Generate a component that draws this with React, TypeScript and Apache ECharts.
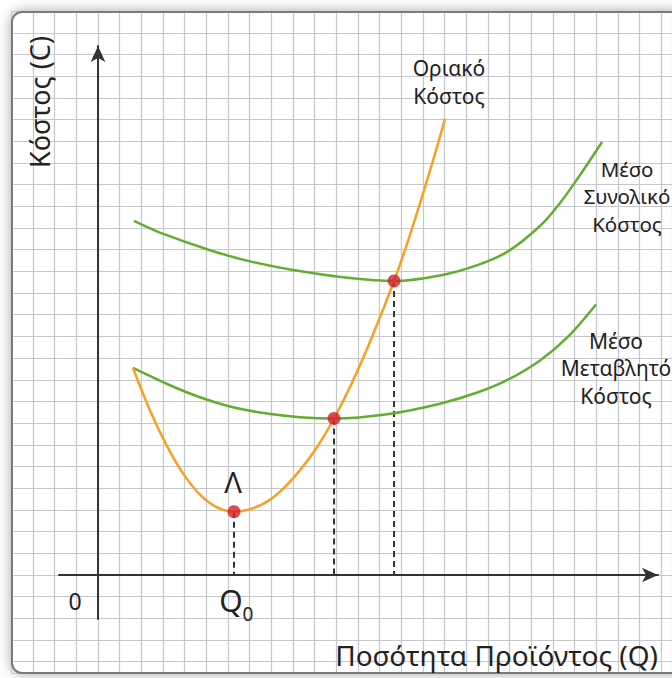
import React, { useEffect, useRef } from "react";
import * as echarts from "echarts";

// Quantities / costs in grid-cell units (origin at the axes' crossing)
const mcQ = [1.615, 2.4, 3.184, 3.922, 4.707, 5.492, 6.276, 7.014, 7.799, 8.537, 9.322, 10.106, 10.891, 11.768, 12.691, 13.66, 14.398, 15.459, 16.013];
const mcC = [9.552, 7.591, 5.944, 4.689, 3.706, 3.12, 2.921, 3.032, 3.387, 3.978, 4.841, 5.897, 7.222, 8.975, 11.098, 13.567, 15.699, 19.119, 21.057];

const avcQ = [1.615, 3.184, 4.707, 6.23, 7.799, 9.322, 10.891, 13.336, 15.782, 17.536, 18.92, 20.397, 21.689, 22.981];
const avcC = [9.552, 8.814, 8.2, 7.739, 7.448, 7.282, 7.222, 7.416, 7.905, 8.431, 9.013, 9.899, 10.996, 12.483];

const atcQ = [1.661, 2.861, 5.168, 7.014, 8.86, 11.629, 13.66, 15.782, 17.536, 18.92, 20.443, 21.32, 22.243, 23.258];
const atcC = [16.336, 15.796, 14.988, 14.471, 14.102, 13.706, 13.567, 13.821, 14.31, 14.933, 16.152, 17.167, 18.459, 19.982];

const pointQ = [6.276, 10.891, 13.66];
const pointC = [2.921, 7.222, 13.567];

const mcLabel = ["Οριακό", "Κόστος"];
const atcLabel = ["Μέσο", "Συνολικό", "Κόστος"];
const avcLabel = ["Μέσο", "Μεταβλητό", "Κόστος"];
const xTitle = "Ποσότητα Προϊόντος (Q)";
const yTitle = "Κόστος (C)";
const originLabel = "0";
const q0Label = "Q";
const q0Sub = "0";
const minLabel = "Λ";

const FONT = '"Noto Sans", "DejaVu Sans", sans-serif';

const zip = (a: number[], b: number[]) => a.map((v, i) => [v, b[i]]);

export default function App() {
  const ref = useRef<HTMLDivElement>(null);
  useEffect(() => {
    if (!ref.current) return;
    const chart = echarts.init(ref.current, undefined, { renderer: "svg" });
    const green = "#62ad32";
    const orange = "#f7a021";
    const textColor = "#222";

    const textLines = (lines: string[], cx: number, baseline0: number, lh: number, size: number) =>
      lines.map((t, i) => ({
        type: "text",
        x: cx,
        y: baseline0 + i * lh,
        z: 60,
        style: {
          text: t,
          font: `${size}px ${FONT}`,
          fill: textColor,
          textAlign: "center",
          textVerticalAlign: "bottom",
        },
      }));

    const dashed = pointQ.map((q, i) => ({
      type: "line",
      xAxisIndex: 0,
      yAxisIndex: 0,
      data: [[q, pointC[i]], [q, 0]],
      symbol: "none",
      lineStyle: { color: "#333", width: 2, type: [6, 4] },
      z: 3,
      silent: true,
    }));

    chart.setOption({
      animation: false,
      grid: [
        { left: 59, right: 14, top: 46, bottom: 59 },
        { left: 11.33, right: 0, top: 11.33, bottom: 5 },
      ],
      xAxis: [
        {
          type: "value",
          gridIndex: 0,
          min: -1.8,
          max: 25.84,
          axisLine: {
            show: true,
            onZero: true,
            symbol: ["none", "arrow"],
            symbolSize: [11, 16],
            lineStyle: { color: "#333", width: 2 },
          },
          axisTick: { show: false },
          axisLabel: { show: false },
          splitLine: { show: false },
        },
        {
          type: "value",
          gridIndex: 1,
          min: 0,
          max: 30.49,
          interval: 1,
          axisLine: { show: false },
          axisTick: { show: false },
          axisLabel: { show: false },
          splitLine: { show: true, lineStyle: { color: "#c6c6cd", width: 1.2 } },
        },
      ],
      yAxis: [
        {
          type: "value",
          gridIndex: 0,
          min: -2.03,
          max: 24.41,
          axisLine: {
            show: true,
            onZero: true,
            symbol: ["none", "arrow"],
            symbolSize: [11, 16],
            lineStyle: { color: "#333", width: 2 },
          },
          axisTick: { show: false },
          axisLabel: { show: false },
          splitLine: { show: false },
        },
        {
          type: "value",
          gridIndex: 1,
          inverse: true,
          min: 0,
          max: 30.53,
          interval: 1,
          axisLine: { show: false },
          axisTick: { show: false },
          axisLabel: { show: false },
          splitLine: { show: true, lineStyle: { color: "#c6c6cd", width: 1.2 } },
        },
      ],
      series: [
        ...dashed,
        {
          type: "line",
          name: "ATC",
          data: zip(atcQ, atcC),
          smooth: 0.3,
          symbol: "none",
          lineStyle: { color: green, width: 2.5 },
          z: 4,
        },
        {
          type: "line",
          name: "AVC",
          data: zip(avcQ, avcC),
          smooth: 0.3,
          symbol: "none",
          lineStyle: { color: green, width: 2.5 },
          z: 4,
        },
        {
          type: "line",
          name: "MC",
          data: zip(mcQ, mcC),
          smooth: 0.3,
          symbol: "none",
          lineStyle: { color: orange, width: 2.5 },
          z: 5,
        },
        {
          type: "scatter",
          data: zip(pointQ, pointC),
          symbolSize: 13,
          itemStyle: { color: "#d11f2c" },
          z: 10,
        },
      ],
      graphic: [
        {
          type: "rect",
          z: -100,
          shape: { x: 12, y: 12, width: 700, height: 661, r: 10 },
          style: { fill: "#ffffff", shadowBlur: 14, shadowColor: "rgba(0,0,0,0.4)" },
        },
        {
          type: "rect",
          z: 50,
          shape: { x: 12, y: 12, width: 700, height: 661, r: 10 },
          style: { fill: "none", stroke: "#7a7a7a", lineWidth: 2 },
        },
        ...textLines(mcLabel, 449, 78, 28, 21),
        ...textLines(atcLabel, 627, 179, 27.5, 20.5),
        ...textLines(avcLabel, 616, 351, 27.5, 21),
        {
          type: "text",
          x: 658,
          y: 655,
          z: 60,
          style: {
            text: xTitle,
            font: `28px ${FONT}`,
            fill: textColor,
            textAlign: "right",
            textVerticalAlign: "middle",
          },
        },
        {
          type: "text",
          x: 39,
          y: 102,
          rotation: Math.PI / 2,
          z: 60,
          style: {
            text: yTitle,
            font: `27px ${FONT}`,
            fill: textColor,
            textAlign: "center",
            textVerticalAlign: "middle",
          },
        },
        {
          type: "text",
          x: 75,
          y: 601,
          z: 60,
          style: {
            text: originLabel,
            font: `23px ${FONT}`,
            fill: textColor,
            textAlign: "center",
            textVerticalAlign: "middle",
          },
        },
        {
          type: "text",
          x: 231,
          y: 600,
          z: 60,
          style: {
            text: q0Label,
            font: `30px ${FONT}`,
            fill: textColor,
            textAlign: "center",
            textVerticalAlign: "middle",
          },
        },
        {
          type: "text",
          x: 248,
          y: 614,
          z: 60,
          style: {
            text: q0Sub,
            font: `19px ${FONT}`,
            fill: textColor,
            textAlign: "center",
            textVerticalAlign: "middle",
          },
        },
        {
          type: "text",
          x: 233,
          y: 481,
          z: 60,
          style: {
            text: minLabel,
            font: `29px ${FONT}`,
            fill: textColor,
            textAlign: "center",
            textVerticalAlign: "middle",
          },
        },
      ],
    });
    return () => chart.dispose();
  }, []);
  return (
    <div
      ref={ref}
      style={{ position: "absolute", left: 0, top: 0, width: 672, height: 678 }}
    />
  );
}
